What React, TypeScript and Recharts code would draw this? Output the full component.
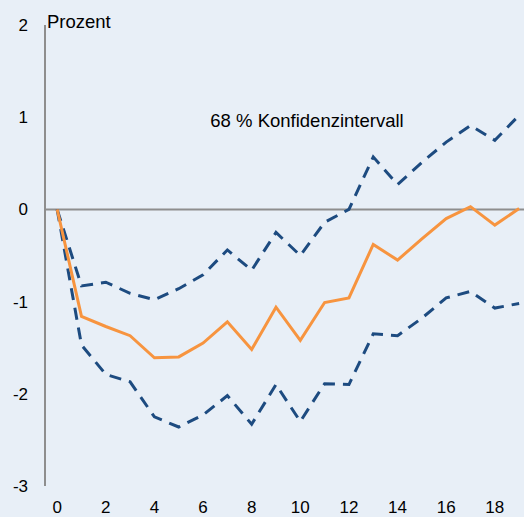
import { LineChart, Line, XAxis, YAxis, ReferenceLine, ReferenceDot } from "recharts";

const months = [0, 1, 2, 3, 4, 5, 6, 7, 8, 9, 10, 11, 12, 13, 14, 15, 16, 17, 18, 19];
const response = [0, -1.16, -1.27, -1.37, -1.61, -1.6, -1.45, -1.22, -1.52, -1.06, -1.42, -1.01, -0.96, -0.38, -0.55, -0.32, -0.1, 0.03, -0.17, 0.01];
const upper = [0, -0.83, -0.79, -0.91, -0.98, -0.86, -0.71, -0.44, -0.66, -0.25, -0.5, -0.14, 0, 0.57, 0.27, 0.51, 0.73, 0.91, 0.75, 1.02];
const lower = [0, -1.47, -1.79, -1.87, -2.25, -2.36, -2.23, -2.02, -2.33, -1.9, -2.3, -1.89, -1.9, -1.35, -1.37, -1.18, -0.96, -0.89, -1.07, -1.02];
const xTicks = [0, 2, 4, 6, 8, 10, 12, 14, 16, 18];
const yTicks = [-3, -2, -1, 0, 1, 2];

const data = months.map((m, i) => ({
  m,
  response: response[i],
  upper: upper[i],
  lower: lower[i],
}));

const font = "'Liberation Sans', Arial, sans-serif";
const axisGrey = "#8e8e8e";
const blue = "#1d4b80";

export default function App() {
  return (
    <div
      style={{
        position: "absolute",
        left: 0,
        top: 0,
        width: 524,
        height: 517,
        background: "#e8eff7",
        fontFamily: font,
      }}
    >
      <LineChart
        width={524}
        height={517}
        data={data}
        margin={{ top: 25, right: 0, bottom: 0, left: 0 }}
      >
        <XAxis
          dataKey="m"
          type="number"
          domain={[-0.5, 19.2]}
          ticks={xTicks}
          axisLine={false}
          tickLine={false}
          tickSize={0}
          tickMargin={15}
          height={31}
          tick={{ fill: "#000", fontSize: 17, fontFamily: font }}
          allowDataOverflow
        />
        <YAxis
          type="number"
          domain={[-3, 2]}
          ticks={yTicks}
          width={45}
          axisLine={{ stroke: axisGrey, strokeWidth: 2 }}
          tickLine={false}
          tickSize={0}
          tickMargin={17}
          tick={{ fill: "#000", fontSize: 17, fontFamily: font }}
          label={{
            value: "Prozent",
            position: "insideTopLeft",
            offset: 0,
            dx: 47,
            dy: -10,
            fill: "#000",
            fontSize: 18.5,
            fontFamily: font,
          }}
        />
        <ReferenceLine y={0} stroke={axisGrey} strokeWidth={2} />
        <ReferenceDot
          x={6.3}
          y={0.96}
          r={0}
          fill="none"
          stroke="none"
          label={{
            value: "68 % Konfidenzintervall",
            position: "right",
            offset: 0,
            fill: "#000",
            fontSize: 18.5,
            fontFamily: font,
          }}
        />
        <Line
          dataKey="upper"
          stroke={blue}
          strokeWidth={3}
          strokeDasharray="12 8"
          dot={false}
          isAnimationActive={false}
        />
        <Line
          dataKey="lower"
          stroke={blue}
          strokeWidth={3}
          strokeDasharray="12 8"
          dot={false}
          isAnimationActive={false}
        />
        <Line
          dataKey="response"
          stroke="#f7943f"
          strokeWidth={3}
          dot={false}
          isAnimationActive={false}
        />
      </LineChart>
    </div>
  );
}
